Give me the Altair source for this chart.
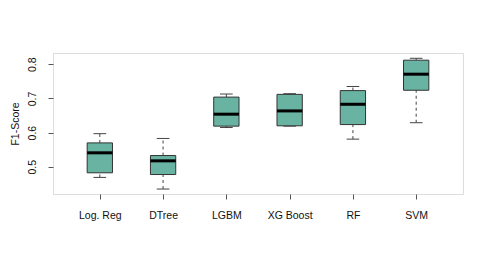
import altair as alt
import pandas as pd

models = ["Log. Reg", "DTree", "LGBM", "XG Boost", "RF", "SVM"]
lower = [0.469, 0.435, 0.615, 0.619, 0.581, 0.629]
q1 = [0.4825, 0.4775, 0.619, 0.620, 0.6236, 0.724]
median = [0.541, 0.5175, 0.654, 0.6636, 0.683, 0.771]
q3 = [0.570, 0.533, 0.704, 0.712, 0.723, 0.812]
upper = [0.597, 0.583, 0.713, 0.714, 0.735, 0.8175]
y_ticks = [0.5, 0.6, 0.7, 0.8]

df = pd.DataFrame({
    "model": models,
    "pos": list(range(1, len(models) + 1)),
    "lower": lower, "q1": q1, "median": median, "q3": q3, "upper": upper,
})

label_expr = "[" + ",".join("'%s'" % m for m in models) + "][datum.value - 1]"

xs = alt.Scale(domain=[0.26, len(models) + 0.74], nice=False, zero=False)
ys = alt.Scale(domain=[0.4205, 0.833], nice=False, zero=False)

x_axis = alt.Axis(values=list(range(1, len(models) + 1)), labelExpr=label_expr,
                  title=None, grid=False, domain=False, tickSize=5, tickColor="#555",
                  labelFontSize=10.5, labelFont="Liberation Sans", labelColor="#111",
                  labelPadding=11, labelAngle=0)
y_axis = alt.Axis(values=y_ticks, format=".1f", title="F1-Score", grid=False, domain=False,
                  tickSize=5, tickColor="#555", labelFontSize=10.5, labelFont="Liberation Sans",
                  labelColor="#111", labelAngle=-90, labelAlign="center", labelBaseline="bottom",
                  labelPadding=11, titleFont="Liberation Sans", titleFontSize=10.5,
                  titleFontWeight="normal", titleColor="#111", titleX=-38, titleBaseline="middle",
                  titleAngle=-90)

base = alt.Chart(df).transform_calculate(
    lo="datum.pos - 0.2", hi="datum.pos + 0.2", clo="datum.pos - 0.1", chi="datum.pos + 0.1"
)

wh_up = base.mark_rule(color="#444", strokeDash=[3, 3], strokeWidth=1).encode(
    x=alt.X("pos:Q", scale=xs, axis=x_axis), y=alt.Y("q3:Q", scale=ys, axis=y_axis), y2="upper:Q")
wh_lo = base.mark_rule(color="#444", strokeDash=[3, 3], strokeWidth=1).encode(
    x=alt.X("pos:Q", scale=xs), y=alt.Y("lower:Q", scale=ys), y2="q1:Q")
cap_up = base.mark_rule(color="#444", strokeWidth=1).encode(
    x=alt.X("clo:Q", scale=xs), x2="chi:Q", y=alt.Y("upper:Q", scale=ys))
cap_lo = base.mark_rule(color="#444", strokeWidth=1).encode(
    x=alt.X("clo:Q", scale=xs), x2="chi:Q", y=alt.Y("lower:Q", scale=ys))
box = base.mark_rect(fill="#69b3a2", stroke="#333", strokeWidth=1).encode(
    x=alt.X("lo:Q", scale=xs), x2="hi:Q", y=alt.Y("q1:Q", scale=ys), y2="q3:Q")
med = base.mark_rule(color="#000", strokeWidth=3).encode(
    x=alt.X("lo:Q", scale=xs), x2="hi:Q", y=alt.Y("median:Q", scale=ys))

chart = alt.layer(wh_up, wh_lo, cap_up, cap_lo, box, med).properties(
    width=410, height=141,
    autosize=alt.AutoSizeParams(type="none"),
    padding={"left": 45, "top": 45, "right": 20, "bottom": 50},
).configure_view(stroke="#555", strokeWidth=1).configure(background="white")

chart.save("out.html", embed_options={"renderer": "svg", "actions": False})
